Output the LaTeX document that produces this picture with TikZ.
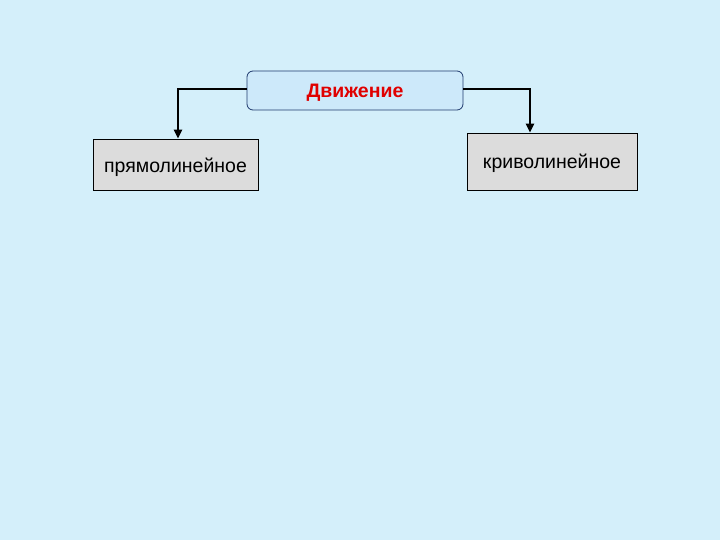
\documentclass[tikz,border=0pt]{standalone}
\usepackage{fontspec}
\setmainfont{Liberation Sans}
\usetikzlibrary{arrows.meta}
\definecolor{bg}{HTML}{D4EFFA}
\definecolor{topfill}{HTML}{CDE9FA}
\definecolor{topdraw}{HTML}{1F3A6E}
\definecolor{boxfill}{HTML}{DCDCDC}
\definecolor{titlered}{HTML}{E00000}
\begin{document}
\begin{tikzpicture}[x=1pt,y=-1pt,
  topbox/.style={draw=topdraw, fill=topfill, rounded corners=6pt, line width=0.8pt, minimum width=216pt, minimum height=39pt, inner sep=0pt},
  subbox/.style={draw=black, fill=boxfill, line width=0.8pt, inner sep=0pt},
  conn/.style={line width=2.6pt, -{Triangle[length=9pt,width=8pt]}},
  toptext/.style={font=\fontsize{19.5}{20}\selectfont\bfseries, text=titlered},
  subtext/.style={font=\fontsize{19.5}{22}\selectfont}]
\useasboundingbox (0,0) rectangle (720,540);
\fill[bg] (0,0) rectangle (720,540);
\node[topbox] (top) at (355,90.5) {};
\node[toptext] (toplabel) at (355,92.5) {Движение};
\node[subbox, minimum width=165pt, minimum height=51pt] (left) at (175.5,164.5) {};
\node[subtext] (leftlabel) at (175.5,167) {прямолинейное};
\node[subbox, minimum width=170pt, minimum height=57pt] (right) at (552,161.5) {};
\node[subtext] (rightlabel) at (552,163.5) {криволинейное};
\coordinate (lc) at (178,89);
\coordinate (rc) at (530,89);
\draw[conn] (top.west |- lc) -- (lc) -- (lc |- left.north);
\draw[conn] (top.east |- rc) -- (rc) -- (rc |- right.north);
\end{tikzpicture}
\end{document}
